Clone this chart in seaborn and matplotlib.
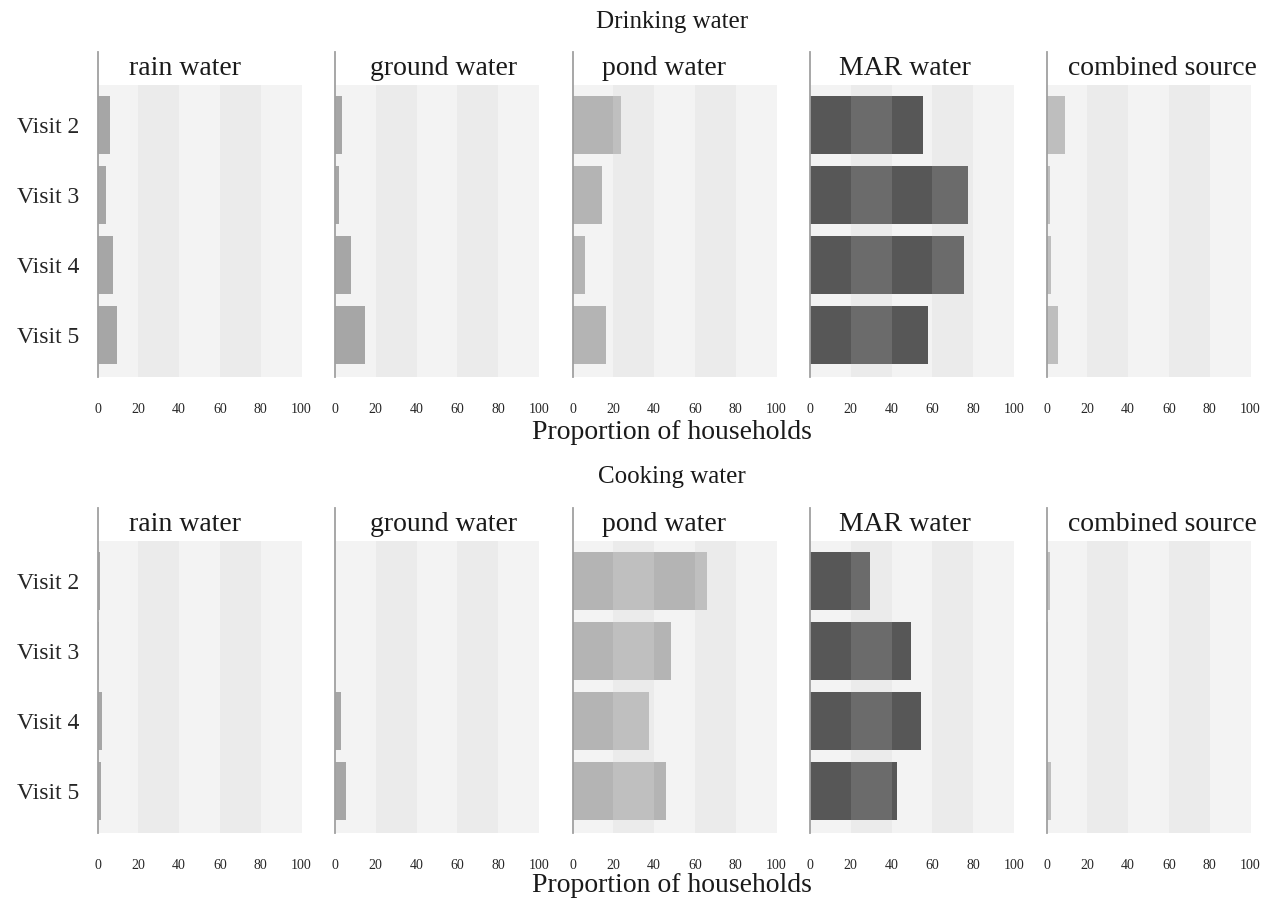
import numpy as np
import pandas as pd
import seaborn as sns
from matplotlib import pyplot as plt

visits = ['Visit 2', 'Visit 3', 'Visit 4', 'Visit 5']
sources = ['rain water', 'ground water', 'pond water', 'MAR water', 'combined source']

# proportion of households (%)
drinking_rain = [6, 4, 7.5, 9.5]
drinking_ground = [3.5, 2, 8, 14.5]
drinking_pond = [24, 14.5, 6, 16.5]
drinking_mar = [55.5, 77.5, 75.5, 58]
drinking_combined = [9, 1.5, 2, 5.5]

cooking_rain = [1, 0.5, 2, 1.5]
cooking_ground = [0, 0, 3, 5.5]
cooking_pond = [66, 48.5, 37.5, 46]
cooking_mar = [29.5, 49.5, 54.5, 42.5]
cooking_combined = [1.5, 0.5, 0, 2]

xticks = [0, 20, 40, 60, 80, 100]

# bar colour in plain band / in shaded band
bar_colors = {
    'rain water': ('#a6a6a6', '#b0b0b0'),
    'ground water': ('#a6a6a6', '#b0b0b0'),
    'pond water': ('#b4b4b4', '#bfbfbf'),
    'MAR water': ('#575757', '#6b6b6b'),
    'combined source': ('#bebebe', '#c8c8c8'),
}
title_x = [43, 53, 45, 46.5, 57]

rows = [
    ('Drinking water', [drinking_rain, drinking_ground, drinking_pond, drinking_mar, drinking_combined]),
    ('Cooking water', [cooking_rain, cooking_ground, cooking_pond, cooking_mar, cooking_combined]),
]

sns.set_theme(style='white')
plt.rcParams['font.family'] = ['Liberation Serif', 'DejaVu Serif']

W, H = 1281, 900
fig = plt.figure(figsize=(W / 100, H / 100), dpi=100)

lefts = [97.5, 335, 572.5, 810, 1046.5]
pw = 204
row_top = [52, 508]
ph = 325

y_lo, y_hi = 3.6, -1.04
bg_top = -0.57

for r, (row_title, series) in enumerate(rows):
    for c, src in enumerate(sources):
        ax = fig.add_axes([lefts[c] / W, 1 - (row_top[r] + ph) / H, pw / W, ph / H])
        df = pd.DataFrame({'visit': visits, 'value': series[c]})
        base, light = bar_colors[src]

        # background bands
        for lo in range(0, 100, 20):
            shade = '#ebebeb' if (lo // 20) % 2 == 1 else '#f3f3f3'
            ax.fill_betweenx([bg_top, y_lo], lo, lo + 20, color=shade, lw=0, zorder=0)

        sns.barplot(data=df, x='value', y='visit', orient='h', color=base,
                    width=0.83, saturation=1, linewidth=0, edgecolor='none', ax=ax, zorder=2)

        # lighter segments where bars cross the shaded bands
        for p in list(ax.patches):
            w = p.get_width()
            for lo, hi in [(20, 40), (60, 80)]:
                if w > lo:
                    ax.barh(p.get_y() + p.get_height() / 2, min(w, hi) - lo, left=lo,
                            height=p.get_height(), color=light, lw=0, zorder=3)

        ax.set_xlim(0, 100)
        ax.set_ylim(y_lo, y_hi)
        ax.set_xticks(xticks)
        ax.set_xticklabels([str(t) for t in xticks], fontsize=10)
        ax.tick_params(axis='both', length=0)
        ax.tick_params(axis='x', pad=19)
        ax.tick_params(axis='y', pad=13, labelsize=17)
        ax.set_xlabel('')
        ax.set_ylabel('')
        if c > 0:
            ax.set_yticklabels([])
        for s in ['top', 'right', 'bottom']:
            ax.spines[s].set_visible(False)
        ax.spines['left'].set_color('#a0a0a0')
        ax.spines['left'].set_linewidth(1.3)
        ax.set_facecolor('white')
        ax.text(title_x[c], -0.81, src, ha='center', va='center', fontsize=20, color='#1a1a1a')

    fig.text(672 / W, 1 - (22 + r * 455) / H, row_title, ha='center', va='center', fontsize=18, color='#1a1a1a')
    fig.text(672 / W, 1 - (433 + r * 452) / H, 'Proportion of households', ha='center', va='center',
             fontsize=20, color='#1a1a1a')

plt.savefig('out.png', dpi=100)
